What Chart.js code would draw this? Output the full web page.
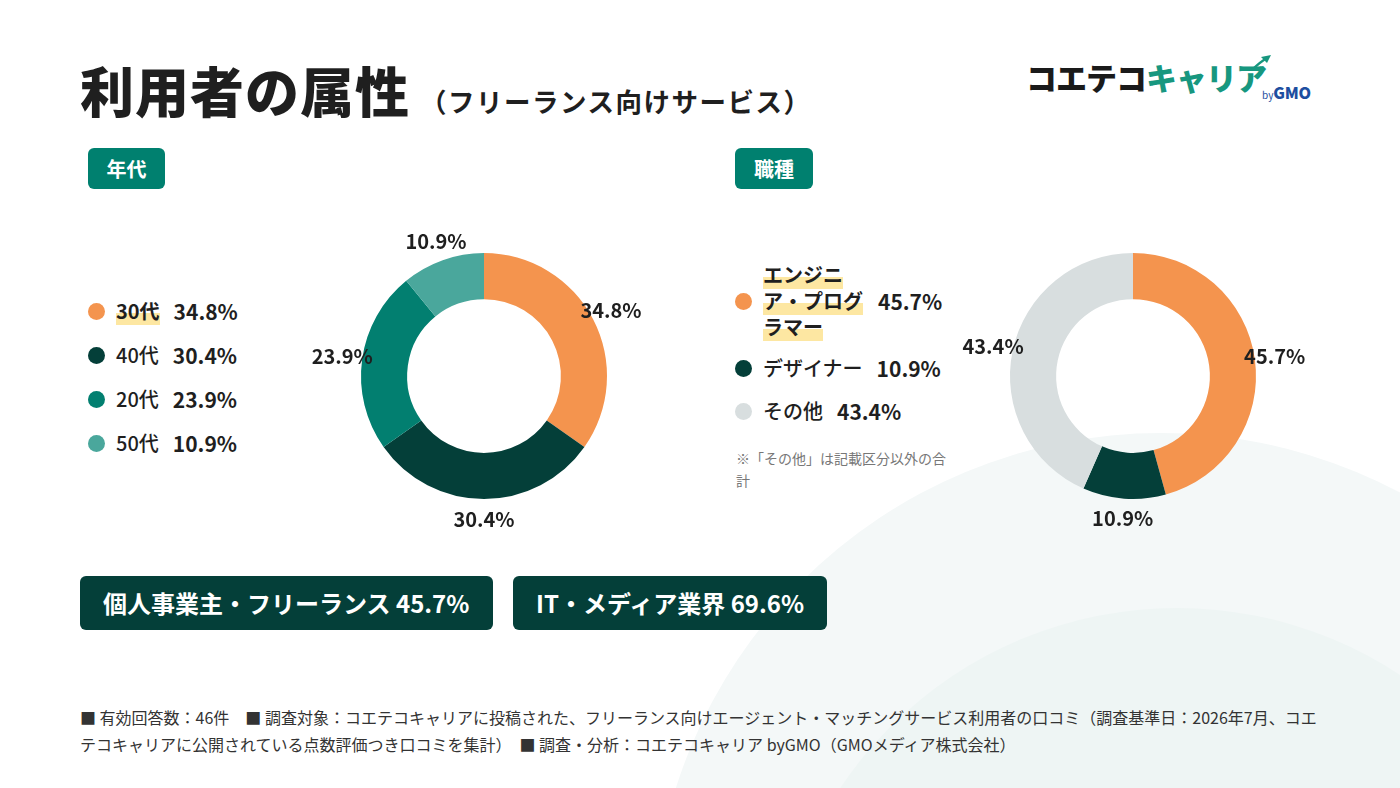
<!DOCTYPE html>
<html lang="ja">
<head>
<meta charset="utf-8">
<script src="https://cdn.jsdelivr.net/npm/chart.js@4.4.1/dist/chart.umd.min.js"></script>
<style>
  body { margin: 0; width: 1400px; height: 788px; overflow: hidden; background: #fff; position: relative;
         font-family: "Noto Sans CJK JP", "Noto Sans", sans-serif; color: #1f1f1f; }
  .bg { position: absolute; border-radius: 50%; }
  .abs { position: absolute; }
  h1 { position: absolute; left: 80px; top: 52px; margin: 0; font-size: 54px; font-weight: 900; line-height: 76px; letter-spacing: 1px; }
  .sub { left: 420px; top: 83px; font-size: 26.5px; font-weight: 700; line-height: 36px; letter-spacing: 1.5px; }
  .tag { background: #00806f; color: #fff; font-weight: 700; font-size: 20px; border-radius: 6px;
         height: 41px; line-height: 41px; text-align: center; }
  .legend .row { display: flex; align-items: center; }
  .dot { width: 17px; height: 17px; border-radius: 50%; flex: none; }
  .lab { font-size: 20px; line-height: 26px; font-weight: 500; }
  .val { font-size: 21px; font-weight: 700; line-height: 26px; }
  .mark { background: linear-gradient(transparent 58%, #fde7a2 58%); font-weight: 700;
          -webkit-box-decoration-break: clone; box-decoration-break: clone; }
  .note { left: 736px; top: 447px; width: 215px; font-size: 14px; line-height: 22px; color: #777; }
  .box { background: #043f39; color: #fff; font-weight: 700; font-size: 24px; border-radius: 6px;
         height: 54px; line-height: 54px; padding: 0 23px; white-space: nowrap; }
  .foot { left: 80px; top: 704px; font-size: 16px; line-height: 27px; color: #333; white-space: nowrap; }
  canvas { position: absolute; }
</style>
</head>
<body>
<div class="bg" style="left:652px;top:433px;width:1018px;height:1018px;background:#f4f8f8"></div>
<div class="bg" style="left:772px;top:608px;width:810px;height:810px;background:#eef5f4"></div>

<h1>利用者の属性</h1>
<div class="abs sub">（フリーランス向けサービス）</div>

<!-- logo -->
<div class="abs" style="left:1026px;top:55px;font-size:31px;font-weight:900;line-height:44px;white-space:nowrap;letter-spacing:-1px">
  <span style="color:#1a1a1a">コエテコ</span><span style="color:#17977f">キャリア</span>
</div>
<svg class="abs" style="left:1250px;top:52px" width="24" height="22">
  <path d="M2 18 Q10 10 17 6" stroke="#17977f" stroke-width="2.5" fill="none"/>
  <polygon points="21,3 11,5 17,11" fill="#17977f"/>
</svg>
<div class="abs" style="left:1262px;top:81px;white-space:nowrap;color:#1d4ea0;line-height:22px">
  <span style="font-size:10px">by</span><span style="font-size:16px;font-weight:900;letter-spacing:-0.3px">GMO</span>
</div>

<div class="abs tag" style="left:88px;top:148px;width:77px">年代</div>
<div class="abs tag" style="left:735px;top:148px;width:78px">職種</div>

<div class="abs legend" id="ageLegend" style="left:88px;top:298px"></div>
<div class="abs legend" id="jobLegend" style="left:735px;top:262px"></div>
<div class="abs note">※「その他」は記載区分以外の合計</div>

<canvas id="ageChart" width="400" height="360" style="left:284px;top:196px"></canvas>
<canvas id="jobChart" width="400" height="360" style="left:933px;top:196px"></canvas>

<div class="abs box" style="left:80px;top:576px;width:367px">個人事業主・フリーランス 45.7%</div>
<div class="abs box" style="left:513px;top:576px;width:268px">IT・メディア業界 69.6%</div>

<div class="abs foot">■ 有効回答数：46件　■ 調査対象：コエテコキャリアに投稿された、フリーランス向けエージェント・マッチングサービス利用者の口コミ（調査基準日：2026年7月、コエ<br>テコキャリアに公開されている点数評価つき口コミを集計）　■ 調査・分析：コエテコキャリア byGMO（GMOメディア株式会社）</div>

<script>
// age breakdown
const ageLabels = ['30代', '40代', '20代', '50代'];
const ageValues = [34.8, 30.4, 23.9, 10.9];
const ageColors = ['#f4944e', '#043f39', '#027f70', '#4aa79c'];

// job breakdown
const jobLabels = ['エンジニア・プログラマー', 'デザイナー', 'その他'];
const jobValues = [45.7, 10.9, 43.4];
const jobColors = ['#f4944e', '#043f39', '#d8dedf'];

// percent labels just outside each slice
const sliceLabels = {
    id: 'sliceLabels',
    afterDatasetsDraw(chart) {
        const ctx = chart.ctx;
        const values = chart.data.datasets[0].data;
        chart.getDatasetMeta(0).data.forEach((arc, i) => {
            const p = arc.getProps(['x', 'y', 'startAngle', 'endAngle', 'outerRadius'], true);
            const mid = (p.startAngle + p.endAngle) / 2;
            const r = p.outerRadius + 20;
            ctx.save();
            ctx.font = 'bold 20px "Noto Sans CJK JP"';
            ctx.fillStyle = '#1f1f1f';
            ctx.textAlign = 'center';
            ctx.textBaseline = 'middle';
            ctx.fillText(values[i].toFixed(1) + '%', p.x + Math.cos(mid) * r, p.y + Math.sin(mid) * r);
            ctx.restore();
        });
    }
};

function makeDonut(id, labels, values, colors) {
    new Chart(document.getElementById(id).getContext('2d'), {
        type: 'doughnut',
        data: {
            labels: labels,
            datasets: [{
                data: values,
                backgroundColor: colors,
                borderWidth: 0
            }]
        },
        options: {
            responsive: false,
            animation: false,
            cutout: '62.5%',
            layout: { padding: { top: 57, bottom: 57, left: 77, right: 77 } },
            plugins: {
                legend: { display: false },
                tooltip: { enabled: false }
            }
        },
        plugins: [sliceLabels]
    });
}

makeDonut('ageChart', ageLabels, ageValues, ageColors);
makeDonut('jobChart', jobLabels, jobValues, jobColors);

// html legends (first entry is highlighted)
function makeLegend(id, labels, values, colors, rowGap, labelWidth) {
    const box = document.getElementById(id);
    labels.forEach((lab, i) => {
        const row = document.createElement('div');
        row.className = 'row';
        row.style.marginBottom = rowGap[i] + 'px';
        const w = labelWidth && labelWidth[i] ? 'width:' + labelWidth[i] + 'px;' : '';
        row.innerHTML =
            '<span class="dot" style="background:' + colors[i] + '"></span>' +
            '<span class="lab" style="margin-left:11px;' + w + '">' +
            (i === 0 ? '<span class="mark">' + lab + '</span>' : lab) + '</span>' +
            '<span class="val" style="margin-left:14px">' + values[i].toFixed(1) + '%</span>';
        box.appendChild(row);
    });
}

makeLegend('ageLegend', ageLabels, ageValues, ageColors, [18, 18, 18, 18]);
makeLegend('jobLegend', jobLabels, jobValues, jobColors, [15, 17, 0], [101, 0, 0]);
</script>
</body>
</html>
